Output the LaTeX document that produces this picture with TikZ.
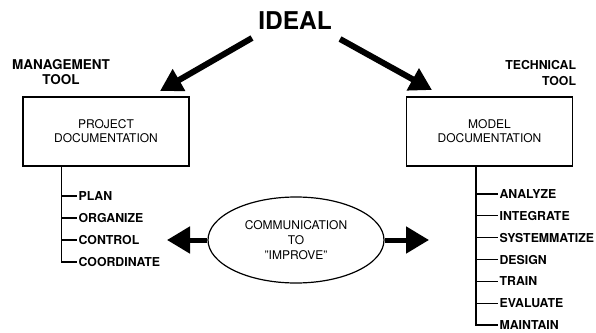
\documentclass[tikz,border=0pt]{standalone}
\usepackage{fontspec}
\setsansfont{TeX Gyre Heros}
\usetikzlibrary{arrows.meta,shapes.geometric}

\begin{document}
\begin{tikzpicture}[x=1pt,y=1pt,line width=1.2pt,
                big arrow/.style={line width=6pt,-{Triangle[length=22pt,width=24pt]}},
                side arrow/.style={line width=5pt,-{Triangle[length=23pt,width=26pt]}},
                box node/.style={draw,minimum width=166pt,minimum height=69pt,align=center,
                  font=\sffamily\fontsize{12}{14}\selectfont},
                head node/.style={align=center,font=\sffamily\bfseries\fontsize{13.5}{15.5}\selectfont},
                item node/.style={anchor=west,inner sep=1pt,font=\sffamily\bfseries\fontsize{12.3}{13}\selectfont}]
                \useasboundingbox (0,0) rectangle (596,332);
                \node[font=\sffamily\bfseries\fontsize{24.5}{28}\selectfont] (ideal) at (295,311) {IDEAL};
                \node[head node] (mgmt) at (61,260) {MANAGEMENT\\TOOL};
                \node[head node,align=right,anchor=east,font=\sffamily\bfseries\fontsize{12.3}{15.5}\selectfont]
                  (tech) at (580,259) {TECHNICAL\\TOOL};
                \node[box node] (proj) at (106,200.5) {PROJECT\\DOCUMENTATION};
                \node[box node] (model) at (489.5,200.5) {MODEL\\DOCUMENTATION};
                \node[ellipse,draw,minimum width=176pt,minimum height=86pt,inner sep=0pt,align=center,
                  font=\sffamily\fontsize{12}{15}\selectfont] (comm) at (296,92) {COMMUNICATION\\TO\\"IMPROVE"};

                % arrows from the top
                \coordinate (ltail) at (252,294);
                \coordinate (lhead) at (160,241);
                \coordinate (rtail) at (340,293);
                \coordinate (rhead) at (432,242);
                \draw[big arrow] (ltail) -- (lhead);
                \draw[big arrow] (rtail) -- (rhead);

                % arrows out of the ellipse
                \coordinate (lend) at (167,92);
                \coordinate (rend) at (429,92);
                \draw[side arrow] (comm.west) -- (lend);
                \draw[side arrow] (comm.east) -- (rend);

                % lists
                \coordinate (ltrunk) at ([xshift=39pt]proj.south west);
                \coordinate (rtrunk) at ([xshift=70pt]model.south west);
                \foreach \name/\txt [count=\i] in {plan/PLAN,organize/ORGANIZE,control/CONTROL,coordinate/COORDINATE}
                {
                  \node[item node] (\name) at (77,158-22*\i) {\txt};
                  \draw (ltrunk) |- (\name.west);
                }
                \foreach \name/\txt [count=\i] in {analyze/ANALYZE,integrate/INTEGRATE,systemmatize/SYSTEMMATIZE,
                  design/DESIGN,train/TRAIN,evaluate/EVALUATE,maintain/MAINTAIN}
                {
                  \node[item node] (\name) at (498,159.8-21.83*\i) {\txt};
                  \draw (rtrunk) |- (\name.west);
                }
\end{tikzpicture}
\end{document}
